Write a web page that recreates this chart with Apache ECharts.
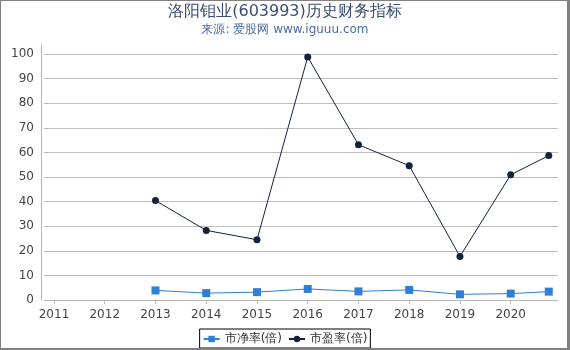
<!DOCTYPE html>
<html><head><meta charset="utf-8">
<script src="https://cdn.jsdelivr.net/npm/echarts@6/dist/echarts.min.js"></script>
<style>
html,body{margin:0;padding:0;background:#fff;}
#c{position:absolute;left:0;top:0;width:570px;height:350px;}
#b{position:absolute;left:0;top:0;width:566px;height:347px;border-left:1px solid #808080;border-top:1px solid #808080;border-right:3px solid #808080;border-bottom:2px solid #808080;pointer-events:none;}
</style></head>
<body><div id="c"></div><div id="b"></div>
<script>
var years = [2013, 2014, 2015, 2016, 2017, 2018, 2019, 2020, 2020.75];
var pbValues = [3.9, 2.8, 3.2, 4.5, 3.5, 4.1, 2.3, 2.6, 3.4];
var peValues = [40.4, 28.3, 24.5, 98.8, 63.1, 54.6, 17.7, 50.9, 58.7];
var xTickLabels = [2011, 2012, 2013, 2014, 2015, 2016, 2017, 2018, 2019, 2020];
var yTickLabels = [0, 10, 20, 30, 40, 50, 60, 70, 80, 90, 100];
var yGridValues = [10, 20, 30, 40, 50, 60, 70, 80, 90, 100];

function pairs(xs, ys){ return xs.map(function(x,i){ return [x, ys[i]]; }); }

var chart = echarts.init(document.getElementById('c'));
chart.setOption({
  animation: false,
  backgroundColor: '#fff',
  title: {
    text: '洛阳钼业(603993)历史财务指标',
    subtext: '来源: 爱股网 www.iguuu.com',
    left: 'center', top: -1,
    itemGap: 4,
    textStyle: {fontFamily: 'DejaVu Sans', fontSize: 16, fontWeight: 'normal', color: '#3b4d70'},
    subtextStyle: {fontFamily: 'DejaVu Sans', fontSize: 12, color: '#4a6d9e'}
  },
  legend: {
    bottom: 2, left: 'center',
    borderColor: '#000', borderWidth: 1, borderRadius: 0,
    padding: [4, 3, 3, 3],
    itemGap: 6, itemWidth: 16, itemHeight: 8,
    textStyle: {fontFamily: 'DejaVu Sans', fontSize: 12, color: '#333'},
    data: ['市净率(倍)', '市盈率(倍)']
  },
  grid: {left: 44, right: 12, top: 45, bottom: 50, containLabel: false},
  xAxis: {
    type: 'value', min: 2010.803, max: 2020.932,
    offset: 3,
    axisLine: {lineStyle: {color: '#b8b8b8'}},
    axisTick: {show: true, length: 4, lineStyle: {color: '#b8b8b8'}, customValues: xTickLabels},
    axisLabel: {customValues: xTickLabels, color: '#444', fontFamily: 'DejaVu Sans', fontSize: 12, margin: 6, formatter: function(v){return String(v);}},
    splitLine: {show: false}
  },
  yAxis: {
    type: 'value', min: 0, max: 103.66,
    offset: 3,
    axisLine: {show: true, lineStyle: {color: '#b8b8b8'}},
    axisTick: {show: false, customValues: yGridValues},
    axisLabel: {customValues: yTickLabels, color: '#444', fontFamily: 'DejaVu Sans', fontSize: 12, margin: 7},
    splitLine: {show: true, lineStyle: {color: '#bdbdbd', width: 1}}
  },
  series: [
    {
      name: '市净率(倍)', type: 'line', data: pairs(years, pbValues),
      symbol: 'rect', symbolSize: 8,
      itemStyle: {color: '#2f7fd8'},
      lineStyle: {color: '#2f7fd8', width: 1}
    },
    {
      name: '市盈率(倍)', type: 'line', data: pairs(years, peValues),
      symbol: 'circle', symbolSize: 7,
      itemStyle: {color: '#14223c'},
      lineStyle: {color: '#14223c', width: 1}
    }
  ]
});
</script></body></html>
